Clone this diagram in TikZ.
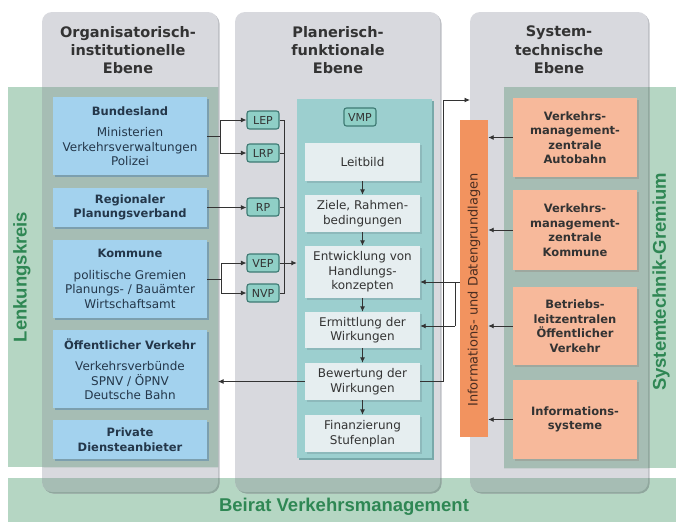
\documentclass[tikz,border=0pt]{standalone}
\usepackage{fontspec}
\setmainfont{DejaVu Sans}
\newfontfamily\bandfont{Liberation Sans}
\usetikzlibrary{arrows.meta,calc,shadows}

\definecolor{colgray}{HTML}{D8D9DE}
\definecolor{colshade}{HTML}{BDBFC4}
\definecolor{bandgreen}{HTML}{B5D6C3}
\definecolor{overlapgreen}{HTML}{A6BDB4}
\definecolor{overlapshade}{HTML}{8FA79D}
\definecolor{labelgreen}{HTML}{2F8754}
\definecolor{boxblue}{HTML}{A3D2EE}
\definecolor{blueshade}{HTML}{7C9FAE}
\definecolor{panelteal}{HTML}{9CCFCF}
\definecolor{tealshade}{HTML}{78A9AA}
\definecolor{steplight}{HTML}{E6EEF0}
\definecolor{stepshade}{HTML}{8DB9BB}
\definecolor{plantile}{HTML}{8FCFC6}
\definecolor{planborder}{HTML}{3E7A74}
\definecolor{barorange}{HTML}{F2935F}
\definecolor{boxorange}{HTML}{F7B99B}
\definecolor{orangeshade}{HTML}{9DA89F}
\definecolor{inkdark}{HTML}{333333}
\definecolor{inkblue}{HTML}{24374A}
\definecolor{inkbrown}{HTML}{4A2E22}

\tikzset{
  title/.style={align=center, font=\bfseries\fontsize{14.5}{18.3}\selectfont, text=inkdark},
  greenlabel/.style={font=\bandfont\bfseries\fontsize{18.5}{20}\selectfont, text=labelgreen},
  orgbox/.style={fill=boxblue, minimum width=154pt, inner sep=0pt, align=center,
    font=\fontsize{12}{14.5}\selectfont, text=inkblue,
    drop shadow={shadow xshift=1.5pt, shadow yshift=-1.8pt, fill=blueshade, opacity=1}},
  orghead/.style={font=\bfseries\fontsize{11.5}{14.5}\selectfont},
  plantag/.style={draw=planborder, line width=1.1pt, fill=plantile, rounded corners=2.5pt,
    minimum width=32pt, minimum height=18pt, inner sep=0pt,
    font=\fontsize{11}{11}\selectfont, text=inkdark},
  stepbox/.style={fill=steplight, minimum width=115pt, inner sep=0pt, align=center,
    font=\fontsize{12}{14.5}\selectfont, text=inkdark,
    drop shadow={shadow xshift=1.5pt, shadow yshift=-1.8pt, fill=stepshade, opacity=1}},
  sysbox/.style={fill=boxorange, minimum width=124pt, inner sep=0pt, align=center,
    font=\bfseries\fontsize{11.5}{14.5}\selectfont, text=inkdark,
    drop shadow={shadow xshift=1.5pt, shadow yshift=-1.8pt, fill=orangeshade, opacity=1}},
  conn/.style={draw=inkdark, line width=0.9pt},
  arr/.style={conn, -{Latex[length=5.5pt,width=5pt]}},
}

\newcommand\headgap{\\[7pt]}
\newcommand\hd[1]{{\bfseries\fontsize{11.5}{14.5}\selectfont #1}}

\begin{document}
\begin{tikzpicture}[x=1pt,y=-1pt]
\useasboundingbox (0,0) rectangle (676,522);

% committee bands behind the three levels
\fill[bandgreen] (8,87) rectangle (218,467);
\fill[bandgreen] (504,87) rectangle (676,468);
\fill[bandgreen] (8,478) rectangle (676,522);

% the three levels
\foreach \a/\b in {42/218,235/440,470/648} {
  \fill[colshade, rounded corners=10pt] (\a+1.5,13.5) rectangle (\b+1.5,493.5);
  \fill[colgray, rounded corners=10pt] (\a,12) rectangle (\b,492);
}
% darker where a level lies over a band
\begin{scope}
  \clip (8,87) rectangle (218,467) (504,87) rectangle (676,468) (8,478) rectangle (676,522);
  \foreach \a/\b in {42/218,235/440,470/648} {
    \fill[overlapshade, rounded corners=10pt] (\a+1.5,13.5) rectangle (\b+1.5,493.5);
    \fill[overlapgreen, rounded corners=10pt] (\a,12) rectangle (\b,492);
  }
\end{scope}
\coordinate (leftedge) at (218,0);
\coordinate (rightedge) at (470,0);

% band labels
\node[greenlabel, rotate=90] (lenk) at (22,277) {Lenkungskreis};
\node[greenlabel, rotate=90] (gremium) at (661,282) {Systemtechnik-Gremium};
\node[greenlabel] (beirat) at (344,507) {Beirat Verkehrsmanagement};

% level titles
\node[title] (tl) at (128,50) {Organisatorisch-\\institutionelle\\Ebene};
\node[title] (tm) at (338,50) {Planerisch-\\funktionale\\Ebene};
\node[title] (tr) at (559,50) {System-\\technische\\Ebene};

% organisational level
\node[orgbox, minimum height=78pt] (bund) at (130,136)
  {\hd{Bundesland}\headgap Ministerien\\Verkehrsverwaltungen\\Polizei};
\node[orgbox, orghead, minimum height=39pt] (reg) at (130,207.5)
  {Regionaler\\Planungsverband};
\node[orgbox, minimum height=78pt] (komm) at (130,279)
  {\hd{Kommune}\headgap politische Gremien\\Planungs- / Bauämter\\Wirtschaftsamt};
\node[orgbox, minimum height=78pt] (oev) at (130,369)
  {\hd{Öffentlicher Verkehr}\headgap Verkehrsverbünde\\SPNV / ÖPNV\\Deutsche Bahn};
\node[orgbox, orghead, minimum height=39pt] (priv) at (130,439.5)
  {Private\\Diensteanbieter};

% planning level: plan types
\node[plantag] (lep) at (263,120) {LEP};
\node[plantag] (lrp) at (263,153) {LRP};
\node[plantag] (rp)  at (263,207) {RP};
\node[plantag] (vep) at (263,263) {VEP};
\node[plantag] (nvp) at (263,293) {NVP};

% planning level: VMP process
\node[fill=panelteal, minimum width=135pt, minimum height=359pt, inner sep=0pt,
  drop shadow={shadow xshift=1.5pt, shadow yshift=-1.8pt, fill=tealshade, opacity=1}]
  (panel) at (364.5,278.5) {};
\node[plantag] (vmp) at (360,117) {VMP};
\node[stepbox, minimum height=38pt] (leit)  at (362.5,162)   {Leitbild};
\node[stepbox, minimum height=37pt] (ziele) at (362.5,213.5) {Ziele, Rahmen-\\bedingungen};
\node[stepbox, minimum height=52pt] (entw)  at (362.5,272)   {Entwicklung von\\Handlungs-\\konzepten};
\node[stepbox, minimum height=36pt] (erm)   at (362.5,330)   {Ermittlung der\\Wirkungen};
\node[stepbox, minimum height=37pt] (bew)   at (362.5,381.5) {Bewertung der\\Wirkungen};
\node[stepbox, minimum height=37pt] (fin)   at (362.5,433.5) {Finanzierung\\Stufenplan};

% system level
\node[fill=barorange, minimum width=28pt, minimum height=317pt, inner sep=0pt] (bar) at (474,278.5) {};
\node[rotate=90, font=\fontsize{13}{13}\selectfont, text=inkbrown] (barlabel) at (474,290)
  {Informations- und Datengrundlagen};
\node[sysbox, minimum height=79pt] (vmza) at (575,137.5) {Verkehrs-\\management-\\zentrale\\Autobahn};
\node[sysbox, minimum height=80pt] (vmzk) at (575,230)   {Verkehrs-\\management-\\zentrale\\Kommune};
\node[sysbox, minimum height=78pt] (blz)  at (575,326)   {Betriebs-\\leitzentralen\\Öffentlicher\\Verkehr};
\node[sysbox, minimum height=79pt] (info) at (575,419.5) {Informations-\\systeme};

% institutions to plan types
\draw[conn] (bund.east) -- ++(13,0) coordinate (jb);
\draw[arr] (jb) |- (lep.west);
\draw[arr] (jb) |- (lrp.west);
\draw[arr] (reg.east) -- (reg.east -| rp.west);
\draw[conn] (komm.east) -- ++(14,0) coordinate (jk);
\draw[arr] (jk) |- (vep.west);
\draw[arr] (jk) |- (nvp.west);

% plan types gathered into the VMP process
\draw[conn] (lep.east) -- ++(5,0) coordinate (jp) |- (nvp.east);
\draw[conn] (lrp.east) -- (lrp.east -| jp);
\draw[conn] (rp.east) -- (rp.east -| jp);
\draw[arr] (vep.east) -- (vep.east -| panel.west);

% process sequence
\foreach \u/\v in {leit/ziele, ziele/entw, entw/erm, erm/bew, bew/fin}
  \draw[arr] (\u.south) -- (\v.north);

% process results to the system level
\coordinate (jout) at (443,100);
\draw[conn] ($(entw.east)+(0,-7)$) -- ($(entw.east)+(0,-7)$ -| jout);
\draw[arr] (bew.east) -- (bew.east -| jout) -- (jout) -- (jout -| rightedge);
\draw[arr] (bew.west) -- (bew.west -| leftedge);

% information base back into the process
\coordinate (jin) at (455,282);
\coordinate (jerm) at ($(erm.east)+(0,-4)$);
\draw[conn] (jin -| bar.west) -- (jin) -- (jin |- jerm);
\draw[arr] (jin) -- (jin -| entw.east);
\draw[arr] (jin |- jerm) -- (jerm);

% system components feed the information base
\foreach \n in {vmza, vmzk, blz, info}
  \draw[arr] (\n.west) -- (\n.west -| bar.east);
\end{tikzpicture}
\end{document}
